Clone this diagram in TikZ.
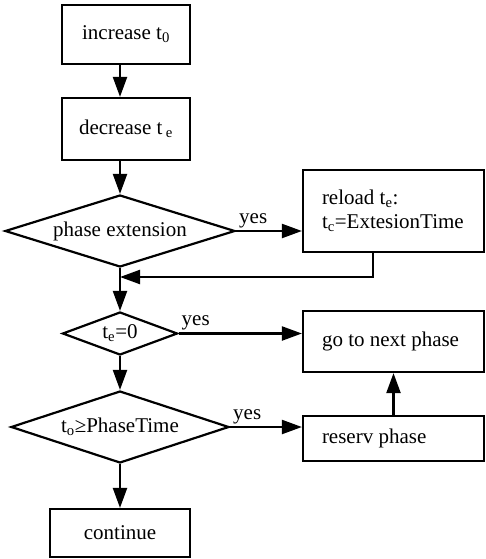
\documentclass[tikz,border=0pt]{standalone}
\usepackage{fontspec}
\setmainfont{Liberation Serif}
\usetikzlibrary{arrows.meta,shapes.geometric}

\begin{document}
\begin{tikzpicture}[x=1pt,y=1pt,line width=2.2pt,
	font=\fontsize{21}{24}\selectfont,
	box/.style={draw,rectangle,inner sep=0pt},
	sidebox/.style={box,minimum width=181,text width=143,align=flush left},
	cond/.style={draw,diamond,aspect=2.7,inner sep=0pt},
	arr/.style={-{Triangle[length=20pt,width=14pt]}},
	yes/.style={above right,inner sep=2pt}]
	\useasboundingbox (0,0) rectangle (485,-559);
	% main column
	\node[box,minimum width=128,minimum height=59] (inc) at (126,-34.5) {increase t\textsubscript{0}};
	\node[box,minimum width=128,minimum height=62] (dec) at (126,-129) {decrease t\,\textsubscript{e}};
	\node[cond,minimum width=230,minimum height=72] (d1) at (120,-231) {phase extension};
	\node[cond,minimum width=115,minimum height=43] (d2) at (120,-333.5) {t\textsubscript{e}=0};
	\node[cond,minimum width=218,minimum height=72] (d3) at (120,-427) {t\textsubscript{o}≥PhaseTime};
	\node[box,minimum width=140,minimum height=48] (cont) at (120,-533) {continue};
	% right column
	\node[sidebox,minimum height=82] (reload) at (393.5,-211) {reload t\textsubscript{e}:\\t\textsubscript{c}=ExtesionTime};
	\node[sidebox,minimum height=61] (next) at (393.5,-341.5) {go to next phase};
	\node[sidebox,minimum height=45] (reserv) at (393.5,-438.5) {reserv phase};
	\coordinate (fb) at (373,-277);
	% connectors
	\draw[arr] (inc.south -| d1.north) -- (dec.north -| d1.north);
	\draw[arr] (dec.south -| d1.north) -- (d1.north);
	\draw[arr] (d1.east) -- (d1.east -| reload.west) node[yes,pos=0] {yes};
	\draw[arr] (reload.south -| fb) -- (fb) -- (fb -| d1.south);
	\draw[arr] (d1.south) -- (d2.north);
	\draw[arr] (d2.east) -- (d2.east -| next.west) node[yes,pos=0] {yes};
	\draw[arr] (d2.south) -- (d3.north);
	\draw[arr] (d3.east) -- (d3.east -| reserv.west) node[yes,pos=0] {yes};
	\draw[arr] (reserv.north) -- (next.south);
	\draw[arr] (d3.south) -- (cont.north);
\end{tikzpicture}
\end{document}
